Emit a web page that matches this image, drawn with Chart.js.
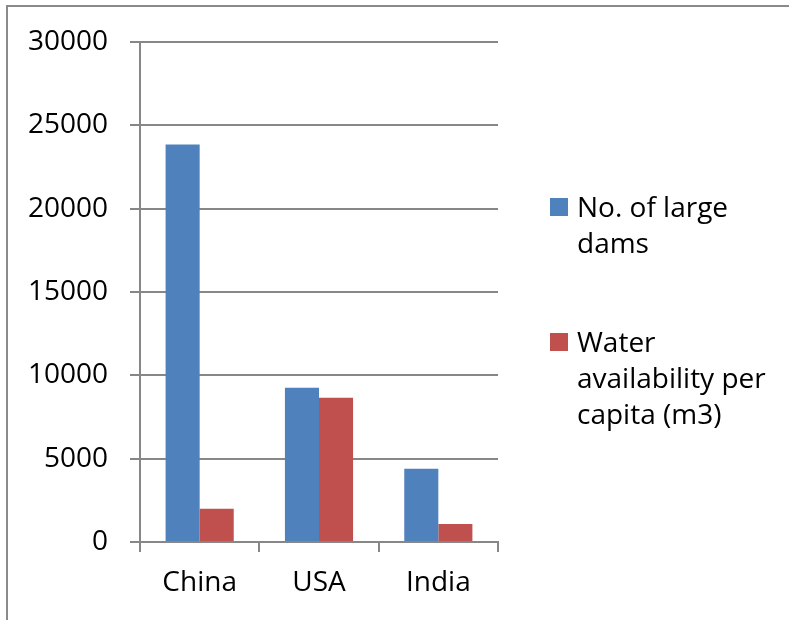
<!DOCTYPE html>
<html>
<head>
<meta charset="utf-8">
<script src="https://cdn.jsdelivr.net/npm/chart.js@4"></script>
<style>
    html, body { margin: 0; padding: 0; background: #fff; }
    #dams { display: block; }
</style>
</head>
<body>
<canvas id="dams" width="790" height="620"></canvas>
<script>
const countries = ['China', 'USA', 'India'];
const largeDams = [23850, 9250, 4400];
const waterPerCapita = [2000, 8650, 1080];
const seriesNames = ['No. of large dams', 'Water availability per capita (m3)'];
const seriesColors = ['#4F81BD', '#C0504D'];

const FONT = '"Open Sans", "DejaVu Sans", sans-serif';
const GRID = '#878787';

// outer frame (only the top and left edges are visible)
const framePlugin = {
    id: 'frame',
    afterDraw(chart) {
        const ctx = chart.ctx;
        ctx.save();
        ctx.strokeStyle = '#8a8a8a';
        ctx.lineWidth = 2;
        ctx.beginPath();
        ctx.moveTo(7, 620);
        ctx.lineTo(7, 6);
        ctx.lineTo(789, 6);
        ctx.stroke();
        ctx.restore();
    }
};

// legend to the right of the plot, labels wrapped over several lines
const sideLegend = {
    id: 'sideLegend',
    afterDraw(chart) {
        const ctx = chart.ctx;
        const x = 550, textX = 577, maxW = 205, lineH = 36;
        let baseline = 217;
        ctx.save();
        ctx.font = '28px ' + FONT;
        ctx.textBaseline = 'alphabetic';
        chart.data.datasets.forEach(ds => {
            const words = ds.label.split(' ');
            const lines = [];
            let cur = '';
            words.forEach(w => {
                const test = cur ? cur + ' ' + w : w;
                if (cur && ctx.measureText(test).width > maxW) {
                    lines.push(cur);
                    cur = w;
                } else {
                    cur = test;
                }
            });
            lines.push(cur);

            ctx.fillStyle = ds.backgroundColor;
            ctx.fillRect(x, baseline - 19, 18, 18);
            ctx.fillStyle = '#000';
            lines.forEach((l, i) => ctx.fillText(l, textX, baseline + i * lineH));
            baseline += 135;
        });
        ctx.restore();
    }
};

new Chart(document.getElementById('dams'), {
    type: 'bar',
    data: {
        labels: countries,
        datasets: [
            { label: seriesNames[0], data: largeDams, backgroundColor: seriesColors[0] },
            { label: seriesNames[1], data: waterPerCapita, backgroundColor: seriesColors[1] }
        ]
    },
    options: {
        responsive: false,
        animation: false,
        devicePixelRatio: 1,
        layout: { padding: { left: 0, top: 42, right: 292, bottom: 0 } },
        datasets: {
            bar: { categoryPercentage: 0.571, barPercentage: 1.0, borderWidth: 0 }
        },
        plugins: {
            legend: { display: false },
            tooltip: { enabled: false }
        },
        scales: {
            x: {
                afterFit: s => { s.height = 78; },
                grid: { drawOnChartArea: false, drawTicks: true, tickLength: 10, color: GRID, lineWidth: 2 },
                border: { display: true, color: GRID, width: 2 },
                ticks: { color: '#000', font: { family: FONT, size: 28 }, padding: 14 }
            },
            y: {
                min: 0,
                max: 30000,
                afterFit: s => { s.width = 140; },
                grid: { color: GRID, lineWidth: 2, tickLength: 10 },
                border: { display: true, color: GRID, width: 2 },
                ticks: {
                    stepSize: 5000,
                    color: '#000',
                    font: { family: FONT, size: 28 },
                    padding: 22,
                    callback: v => String(v)
                }
            }
        }
    },
    plugins: [framePlugin, sideLegend]
});
</script>
</body>
</html>
